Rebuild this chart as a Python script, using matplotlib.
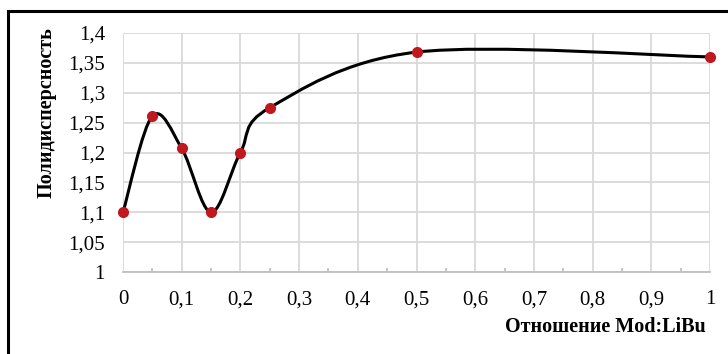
import numpy as np
import matplotlib.pyplot as plt
from matplotlib.path import Path
from matplotlib.patches import PathPatch, Rectangle

# Данные: отношение Mod:LiBu и полидисперсность
otnoshenie = [0, 0.05, 0.1, 0.15, 0.2, 0.25, 0.5, 1.0]
polidispersnost = [1.10, 1.261, 1.207, 1.10, 1.20, 1.275, 1.368, 1.36]

x_ticks = [0, 0.1, 0.2, 0.3, 0.4, 0.5, 0.6, 0.7, 0.8, 0.9, 1.0]
y_ticks = [1, 1.05, 1.1, 1.15, 1.2, 1.25, 1.3, 1.35, 1.4]


def fmt(v):
    s = ('%.2f' % v).rstrip('0').rstrip('.')
    return s.replace('.', ',')


def sglazhennaya_liniya(x, y):
    # Кривая Безье как у сглаженной линии Excel
    pts = np.column_stack([x, y])
    n = len(pts)
    verts = [pts[0]]
    codes = [Path.MOVETO]
    for i in range(n - 1):
        p0 = pts[i - 1] if i > 0 else pts[i]
        p1 = pts[i]
        p2 = pts[i + 1]
        p3 = pts[i + 2] if i + 2 < n else pts[i + 1]
        c1 = p1 + (p2 - p0) / 6
        c2 = p2 - (p3 - p1) / 6
        verts += [c1, c2, p2]
        codes += [Path.CURVE4] * 3
    return Path(verts, codes)


plt.rcParams['font.family'] = ['Liberation Serif', 'DejaVu Serif']

fig = plt.figure(figsize=(7.28, 3.54), dpi=100)
ax = fig.add_axes([123 / 728, 1 - 272 / 354, (710 - 123) / 728, (272 - 33) / 354])

# Рамка вокруг диаграммы
fig.patches.append(Rectangle((8 / 728, -0.1), 1.0, 1 - 11 / 354 + 0.1,
                             transform=fig.transFigure, fill=False,
                             edgecolor='black', linewidth=2.2))

ax.set_xlim(0, 1)
ax.set_ylim(1, 1.4)
ax.set_xticks(x_ticks)
ax.set_xticklabels([fmt(v) for v in x_ticks], fontsize=15)
ax.set_yticks(y_ticks)
ax.set_yticklabels([fmt(v) for v in y_ticks], fontsize=15)
ax.set_xticks(np.arange(0.05, 1, 0.1), minor=True)
ax.grid(True, which='major', color='#d9d9d9', linewidth=1.3)
ax.set_axisbelow(True)

for s in ['top', 'right', 'left']:
    ax.spines[s].set_visible(False)
ax.spines['bottom'].set_color('#bfbfbf')
ax.spines['bottom'].set_linewidth(1.3)
ax.tick_params(axis='x', which='major', length=0, pad=13)
ax.tick_params(axis='x', which='minor', direction='in', length=3,
               color='#bfbfbf', width=1.3)
ax.tick_params(axis='y', length=0, pad=13)

ax.add_patch(PathPatch(sglazhennaya_liniya(otnoshenie, polidispersnost),
                       facecolor='none', edgecolor='black', linewidth=2.2,
                       zorder=3))
ax.plot(otnoshenie, polidispersnost, 'o', color='#c0181f', markersize=7,
        zorder=4, clip_on=False)

fig.text(47 / 728, 1 - 113 / 354, 'Полидисперсность', rotation=90,
         ha='center', va='center', fontsize=14.5, fontweight='bold')
fig.text(706 / 728, 1 - 327 / 354, 'Отношение Mod:LiBu',
         ha='right', va='center', fontsize=14.5, fontweight='bold')

fig.savefig('out.png', dpi=100)
